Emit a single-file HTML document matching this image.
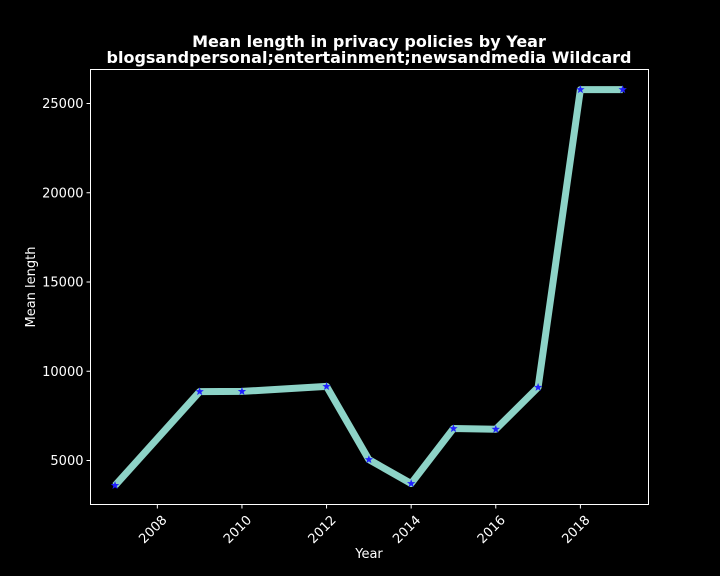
<!DOCTYPE html>
<html><head><meta charset="utf-8"><style>
html,body{margin:0;background:#000;width:720px;height:576px;overflow:hidden;font-family:"DejaVu Sans","Liberation Sans",sans-serif}
svg{display:block}
</style></head><body>
<svg id="chart" width="720" height="576" xmlns="http://www.w3.org/2000/svg" font-family="DejaVu Sans, Liberation Sans, sans-serif">
<rect width="720" height="576" fill="#000"/>
<text x="369" y="47" fill="#fff" font-size="16" font-weight="bold" text-anchor="middle">Mean length in privacy policies by Year</text>
<text x="369" y="63" fill="#fff" font-size="16" font-weight="bold" text-anchor="middle">blogsandpersonal;entertainment;newsandmedia Wildcard</text>
<rect x="90.5" y="69.5" width="558" height="435" fill="none" stroke="#fff" stroke-width="1"/>
<g id="yticks"></g><g id="xticks"></g>
<polyline id="series-line" fill="none" stroke="#8dd3c7" stroke-width="7" stroke-linejoin="round"/>
<g id="markers"></g>
<text x="369" y="558" fill="#fff" font-size="13" text-anchor="middle">Year</text>
<text transform="translate(35,287) rotate(-90)" fill="#fff" font-size="13" text-anchor="middle">Mean length</text>
</svg>
<script>
const years=[2007,2009,2010,2012,2013,2014,2015,2016,2017,2018,2019];
const meanLength=[3600,8860,8870,9150,5050,3710,6790,6750,9100,25780,25780];
const yTicks=[5000,10000,15000,20000,25000];
const xTicks=[2008,2010,2012,2014,2016,2018];
const NS="http://www.w3.org/2000/svg";
const L=90.5,R=648.5,T=69.5,B=504.5;
const xMin=2006.42,xMax=2019.61,yMin=2535,yMax=26905;
const xs=v=>L+(v-xMin)/(xMax-xMin)*(R-L);
const ys=v=>B-(v-yMin)/(yMax-yMin)*(B-T);
function mk(t,a,p){const e=document.createElementNS(NS,t);for(const k in a)e.setAttribute(k,a[k]);p.appendChild(e);return e;}
const yg=document.getElementById('yticks');
yTicks.forEach(v=>{const y=ys(v);
const l=mk('line',{x1:L-4,x2:L,y1:y,y2:y,stroke:'#fff'},yg);


const t=mk('text',{x:L-7,y:y+4.5,fill:'#fff','font-size':13,'text-anchor':'end'},yg);t.textContent=v;

});
const xg=document.getElementById('xticks');
xTicks.forEach(v=>{const x=xs(v);
const l=mk('line',{x1:x,x2:x,y1:B,y2:B+4,stroke:'#fff'},xg);


const t=mk('text',{transform:`translate(${x+4},${B+10}) rotate(-45)`,fill:'#fff','font-size':13,'text-anchor':'end','dominant-baseline':'hanging'},xg);t.textContent=v;

});
document.getElementById('series-line').setAttribute('points',years.map((y,i)=>xs(y)+','+ys(meanLength[i])).join(' '));
const mg=document.getElementById('markers');
years.forEach((y,i)=>{const cx=xs(y),cy=ys(meanLength[i]);const pts=[];
for(let k=0;k<10;k++){const r=k%2?1.8:4.4;const a=-Math.PI/2+k*Math.PI/5;pts.push((cx+r*Math.cos(a))+','+(cy+r*Math.sin(a)));}
const p=mk('polygon',{points:pts.join(' '),fill:'#1f1fff'},mg);

});
</script>
</body></html>
